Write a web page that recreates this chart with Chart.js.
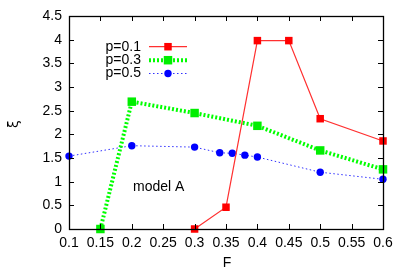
<!DOCTYPE html>
<html>
<head>
<meta charset="utf-8">
<script src="https://cdn.jsdelivr.net/npm/chart.js@4"></script>
<style>
  html, body { margin: 0; padding: 0; background: #fff; }
  #wrap { width: 409px; height: 273px; }
</style>
</head>
<body>
<div id="wrap"><canvas id="chart" width="409" height="273"></canvas></div>
<script>
const fRed = [0.3, 0.35, 0.4, 0.45, 0.5, 0.6];
const xiRed = [0, 0.46, 3.98, 3.98, 2.33, 1.86];

const fGreen = [0.15, 0.2, 0.3, 0.4, 0.5, 0.6];
const xiGreen = [0, 2.69, 2.45, 2.18, 1.66, 1.26];

const fBlue = [0.1, 0.2, 0.3, 0.34, 0.36, 0.38, 0.4, 0.5, 0.6];
const xiBlue = [1.54, 1.76, 1.73, 1.61, 1.60, 1.56, 1.52, 1.20, 1.05];

const seriesLabels = ['p=0.1', 'p=0.3', 'p=0.5'];
const xTicks = [0.1, 0.15, 0.2, 0.25, 0.3, 0.35, 0.4, 0.45, 0.5, 0.55, 0.6];
const yTicks = [0, 0.5, 1, 1.5, 2, 2.5, 3, 3.5, 4, 4.5];

const FONT = 'Liberation Sans, Arial, sans-serif';

function pts(xs, ys) {
    return xs.map((x, i) => ({ x: x, y: ys[i] }));
}

const datasets = [
    {
        label: seriesLabels[0],
        data: pts(fRed, xiRed),
        borderColor: '#ff3030',
        backgroundColor: '#ff0000',
        borderWidth: 1.2,
        pointStyle: 'rect',
        pointRadius: 5.3,
        pointBorderWidth: 0
    },
    {
        label: seriesLabels[1],
        data: pts(fGreen, xiGreen),
        borderColor: '#00ff00',
        backgroundColor: '#00ee00',
        borderWidth: 4,
        borderDash: [2, 2],
        pointStyle: 'rect',
        pointRadius: 6,
        pointBorderWidth: 0
    },
    {
        label: seriesLabels[2],
        data: pts(fBlue, xiBlue),
        borderColor: '#3030ff',
        backgroundColor: '#0000ff',
        borderWidth: 1,
        borderDash: [1.5, 2.5],
        pointStyle: 'circle',
        pointRadius: 3.7,
        pointBorderWidth: 0
    }
];

// frame, inward ticks on all four sides, legend and labels
const gnuplotLook = {
    id: 'gnuplotLook',
    afterDraw(chart) {
        const ctx = chart.ctx;
        const a = chart.chartArea;
        const xs = chart.scales.x, ys = chart.scales.y;
        ctx.save();
        ctx.strokeStyle = '#000';
        ctx.lineWidth = 1;
        ctx.beginPath();
        xTicks.forEach(v => {
            const px = Math.round(xs.getPixelForValue(v)) + 0.5;
            ctx.moveTo(px, a.bottom); ctx.lineTo(px, a.bottom - 5);
            ctx.moveTo(px, a.top); ctx.lineTo(px, a.top + 5);
        });
        yTicks.forEach(v => {
            const py = Math.round(ys.getPixelForValue(v)) + 0.5;
            ctx.moveTo(a.left, py); ctx.lineTo(a.left + 5, py);
            ctx.moveTo(a.right, py); ctx.lineTo(a.right - 5, py);
        });
        ctx.stroke();
        ctx.lineWidth = 1.3;
        ctx.strokeRect(Math.round(a.left) + 0.5, Math.round(a.top) + 0.5,
            Math.round(a.right - a.left), Math.round(a.bottom - a.top));

        // legend
        ctx.font = '14px ' + FONT;
        ctx.textAlign = 'right';
        ctx.textBaseline = 'middle';
        const rows = [46.7, 60.2, 73.5];
        chart.data.datasets.forEach((ds, i) => {
            const y = rows[i];
            ctx.fillStyle = '#000';
            ctx.fillText(ds.label, 141, y);
            ctx.strokeStyle = ds.borderColor;
            ctx.lineWidth = ds.borderWidth;
            ctx.setLineDash(ds.borderDash || []);
            ctx.beginPath();
            ctx.moveTo(149, y); ctx.lineTo(187, y);
            ctx.stroke();
            ctx.setLineDash([]);
            ctx.fillStyle = ds.backgroundColor;
            if (ds.pointStyle === 'circle') {
                ctx.beginPath();
                ctx.arc(168, y, ds.pointRadius, 0, Math.PI * 2);
                ctx.fill();
            } else {
                const s = ds.pointRadius * Math.SQRT1_2;
                ctx.fillRect(168 - s, y - s, 2 * s, 2 * s);
            }
        });

        ctx.fillStyle = '#000';
        ctx.textAlign = 'left';
        ctx.fillText('model A', 133, 187);

        ctx.textAlign = 'center';
        ctx.fillText('F', 227, 263);

        ctx.translate(14, 124);
        ctx.rotate(-Math.PI / 2);
        ctx.font = '14px DejaVu Sans, sans-serif';
        ctx.fillText('ξ', 0, 0);
        ctx.restore();
    }
};

new Chart(document.getElementById('chart'), {
    type: 'line',
    data: { datasets: datasets },
    options: {
        responsive: false,
        animation: false,
        layout: { padding: { left: 0, right: 26, top: 16, bottom: 0 } },
        plugins: {
            legend: { display: false },
            tooltip: { enabled: false }
        },
        elements: { line: { tension: 0 } },
        datasets: { line: { clip: false } },
        scales: {
            x: {
                type: 'linear',
                min: 0.1,
                max: 0.6,
                afterBuildTicks: s => { s.ticks = xTicks.map(v => ({ value: v })); },
                afterFit: s => { s.height = 44; },
                border: { display: false },
                grid: { display: false, drawTicks: false },
                ticks: {
                    color: '#000',
                    padding: 6,
                    maxRotation: 0,
                    autoSkip: false,
                    font: { family: FONT, size: 14 },
                    callback: v => String(v)
                }
            },
            y: {
                type: 'linear',
                min: 0,
                max: 4.5,
                afterBuildTicks: s => { s.ticks = yTicks.map(v => ({ value: v })); },
                afterFit: s => { s.width = 69; },
                border: { display: false },
                grid: { display: false, drawTicks: false },
                ticks: {
                    color: '#000',
                    padding: 7,
                    font: { family: FONT, size: 14 },
                    callback: v => String(v)
                }
            }
        }
    },
    plugins: [gnuplotLook]
});
</script>
</body>
</html>
